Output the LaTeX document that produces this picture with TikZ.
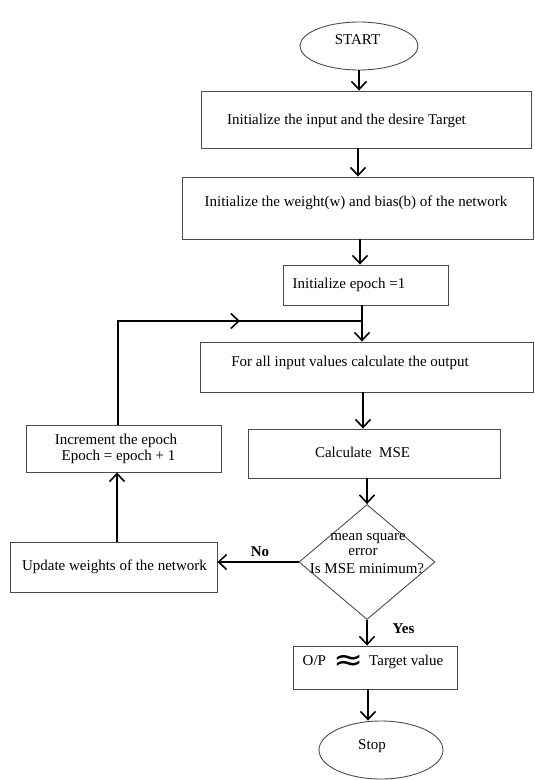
\documentclass[tikz,border=0pt]{standalone}
\usepackage{fontspec}
\setmainfont{Liberation Serif}
\newfontfamily\symfont{DejaVu Sans}
\usepackage{graphicx}
\usetikzlibrary{arrows.meta,shapes.geometric}
\begin{document}
\begin{tikzpicture}[x=1pt,y=-1pt,
  box/.style={draw=black!70, line width=0.9pt, rectangle, inner sep=0pt},
  oval/.style={draw=black!70, line width=0.9pt, ellipse, inner sep=0pt},
  txt/.style={font=\fontsize{15}{15}\selectfont, inner sep=0pt},
  lbl/.style={font=\fontsize{15}{15}\selectfont\bfseries, inner sep=0pt},
  conn/.style={line width=1.6pt},
  arr/.style={conn, -{Straight Barb[length=8pt,width=15pt,line width=1.6pt]}}]
\useasboundingbox (0,0) rectangle (535,780);
% shapes
\node[oval, minimum width=118pt, minimum height=48pt] (start) at (359,46) {};
\node[box, minimum width=330pt, minimum height=57pt] (b1) at (366,119.5) {};
\node[box, minimum width=351pt, minimum height=62pt] (b2) at (357.5,208) {};
\node[box, minimum width=165pt, minimum height=40pt] (b3) at (365.5,285) {};
\node[box, minimum width=333pt, minimum height=50pt] (b4) at (366.5,367) {};
\node[box, minimum width=252pt, minimum height=49pt] (b5) at (374,453.5) {};
\node[box, minimum width=195pt, minimum height=47pt] (inc) at (123.5,448.5) {};
\node[box, minimum width=207pt, minimum height=50pt] (upd) at (113.5,567) {};
\node[diamond, draw=black!70, line width=0.9pt, inner sep=0pt, minimum width=136pt, minimum height=115pt] (dm) at (367,562) {};
\node[box, minimum width=164pt, minimum height=43pt] (op) at (375,667.5) {};
\node[oval, minimum width=124pt, minimum height=58pt] (stop) at (381,750) {};
% texts
\node[txt] (tstart) at (357.5,40) {START};
\node[txt] (t1) at (346.5,121) {Initialize the input and the desire Target};
\node[txt] (t2) at (356,203) {Initialize the weight(w) and bias(b) of the network};
\node[txt] (t3) at (349,285) {Initialize epoch =1};
\node[txt] (t4) at (350,363) {For all input values calculate the output};
\node[txt] (t5) at (362.5,452) {Calculate\ \ MSE};
\node[txt] (tinc1) at (116,440.5) {Increment the epoch};
\node[txt] (tinc2) at (118.5,456.5) {Epoch = epoch + 1};
\node[txt] (tupd) at (114.5,567) {Update weights of the network};
\node[txt] (td1) at (368,538) {mean square};
\node[txt] (td2) at (363,552.5) {error};
\node[txt] (td3) at (367,569) {Is MSE minimum?};
\node[lbl] (tno) at (260,552) {No};
\node[lbl] (tyes) at (403.5,629) {Yes};
\node[txt] (top) at (373,662) {O/P\hspace{7pt}\raisebox{-5pt}[0pt][0pt]{\scalebox{1.5}[1.3]{\fontsize{24}{24}\symfont ≈}}\hspace{6pt}Target value};
\node[txt] (tstop) at (372,746) {Stop};
% connectors
\coordinate (jn) at (362,321);
\coordinate (mid) at (240,321);
\draw[arr] (start.south) -- (start.south |- b1.north);
\draw[arr] ([xshift=-8pt]b1.south) -- ([xshift=-8pt]b1.south |- b2.north);
\draw[arr] ([xshift=2.5pt]b2.south) -- ([xshift=2.5pt]b2.south |- b3.north);
\draw[conn] ([xshift=-3.5pt]b3.south) -- (jn);
\draw[arr] (jn) -- (jn |- b4.north);
\draw[arr] ([xshift=-3.5pt]b4.south) -- ([xshift=-3.5pt]b4.south |- b5.north);
\draw[arr] (dm.north |- b5.south) -- (dm.north);
\draw[arr] (dm.west) -- (dm.west -| upd.east);
\draw[arr] ([xshift=3.5pt]upd.north) -- ([xshift=3.5pt]upd.north |- inc.south);
\draw[conn] ([xshift=-5.5pt]inc.north) |- (jn);
\draw[arr] ([xshift=-5.5pt]inc.north |- jn) -- (mid);
\draw[arr] (dm.south) -- (dm.south |- op.north);
\draw[arr] ([xshift=-7pt]op.south) -- ([xshift=-7pt]op.south |- stop.north);
\end{tikzpicture}
\end{document}
